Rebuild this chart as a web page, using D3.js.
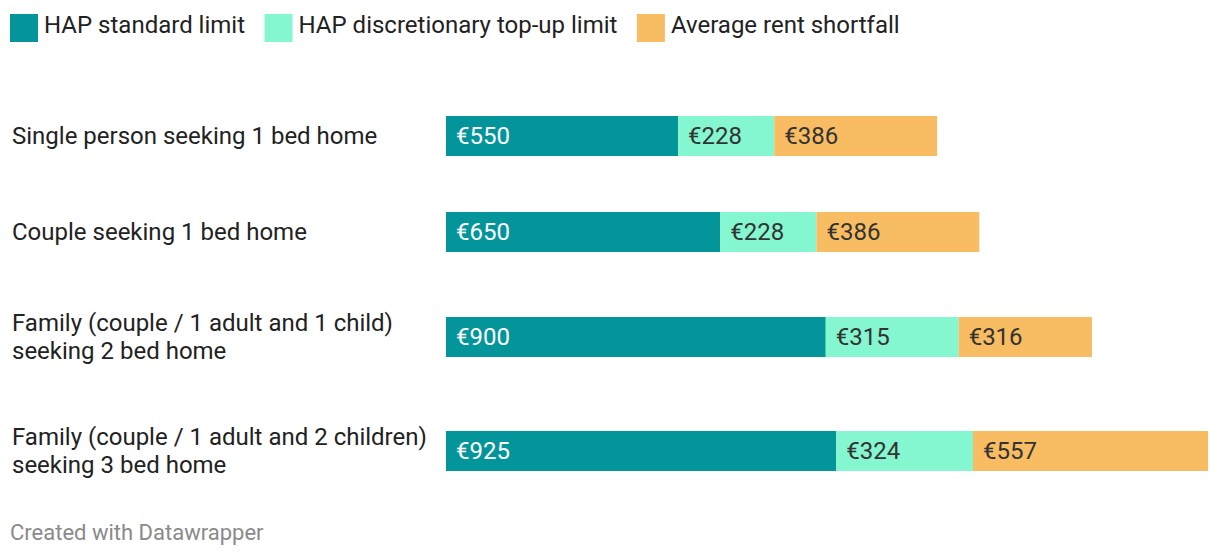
<!DOCTYPE html>
<html>
<head>
<meta charset="utf-8">
<script src="https://cdn.jsdelivr.net/npm/d3@7"></script>
<style>
  html, body { margin: 0; padding: 0; background: #fff; }
  svg { display: block; font-family: Roboto, "Noto Sans", sans-serif; }
</style>
</head>
<body>
<svg id="chart" width="1220" height="556"></svg>
<script>
// ---- data ----
const categories = [
  ["Single person seeking 1 bed home"],
  ["Couple seeking 1 bed home"],
  ["Family (couple / 1 adult and 1 child)", "seeking 2 bed home"],
  ["Family (couple / 1 adult and 2 children)", "seeking 3 bed home"]
];
const seriesNames = ["HAP standard limit", "HAP discretionary top-up limit", "Average rent shortfall"];
const standardLimit = [550, 650, 900, 925];
const topUpLimit = [228, 228, 315, 324];
const rentShortfall = [386, 386, 316, 557];
const seriesColors = ["#03959a", "#84f6d0", "#f8bc62"];
const labelColors = ["#ffffff", "#333333", "#333333"];

// ---- layout ----
const W = 1220, H = 556;
const barLeft = 446, barRight = 1208;
const barH = 40, lineH = 28, rowLineH = 29, rowGap = 56, firstTop = 116;
const fontSize = 24;

const svg = d3.select("#chart");

const rows = categories.map((lab, i) => ({
  label: lab,
  values: [standardLimit[i], topUpLimit[i], rentShortfall[i]]
}));
const totals = rows.map(r => d3.sum(r.values));

const x = d3.scaleLinear().domain([0, d3.max(totals)]).range([barLeft, barRight]);

// compute row positions from content heights
let cursor = firstTop;
rows.forEach(r => {
  const contentH = Math.max(barH, r.label.length * rowLineH);
  r.top = cursor;
  r.center = Math.round(cursor + contentH / 2);
  r.barY = r.center - barH / 2;
  cursor += contentH + rowGap;
});

// legend
const legend = svg.append("g");
let lx = 10;
seriesNames.forEach((name, i) => {
  const g = legend.append("g").attr("transform", `translate(${lx},14)`);
  g.append("rect").attr("width", 28).attr("height", 28).attr("fill", seriesColors[i]);
  const t = g.append("text").attr("x", 34).attr("y", 11).attr("dy", "0.35em")
    .attr("font-size", fontSize).attr("fill", "#222").text(name);
  const w = t.node().getComputedTextLength();
  lx += 34 + w + 19.5;
});

// rows
const rowG = svg.selectAll("g.row").data(rows).join("g").attr("class", "row");

rowG.each(function(r) {
  const g = d3.select(this);
  const n = r.label.length;
  const t = g.append("text").attr("font-size", fontSize).attr("fill", "#222");
  r.label.forEach((line, j) => {
    t.append("tspan").attr("x", 12)
      .attr("y", r.center + (j - (n - 1) / 2) * lineH)
      .attr("dy", "0.35em").text(line);
  });

  let acc = 0;
  r.values.forEach((v, k) => {
    const x0 = x(acc), x1 = x(acc + v);
    g.append("rect").attr("x", x0).attr("y", r.barY)
      .attr("width", x1 - x0).attr("height", barH).attr("fill", seriesColors[k]);
    g.append("text").attr("x", x0 + 10).attr("y", r.center).attr("dy", "0.35em")
      .attr("font-size", fontSize).attr("fill", labelColors[k])
      .text("€" + v);
    acc += v;
  });
});

// footer
svg.append("text").attr("x", 10).attr("y", 540).attr("font-size", 22)
  .attr("fill", "#8a8a8a").text("Created with Datawrapper");
</script>
</body>
</html>
